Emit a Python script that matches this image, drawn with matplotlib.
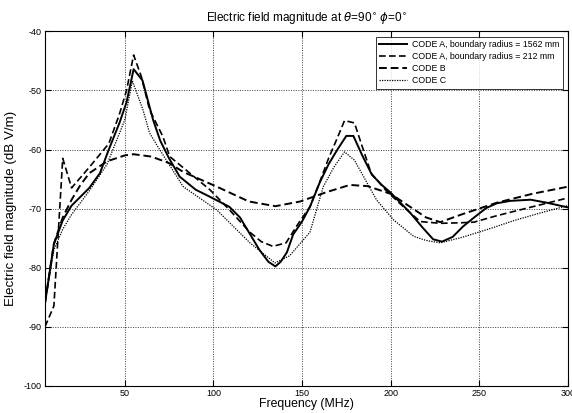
import matplotlib
matplotlib.use("Agg")
import matplotlib.pyplot as plt

plt.rcParams['font.family'] = ['Liberation Sans', 'DejaVu Sans']
plt.rcParams['axes.unicode_minus'] = False
plt.rcParams['mathtext.fontset'] = 'dejavusans'

# CODE A, boundary radius = 1562 mm (solid)
f_a1562 = [5, 10, 15, 20, 25, 30, 36, 41, 47, 51, 55, 60, 66, 70, 75, 81, 90, 98, 109, 115, 120, 126, 131, 135,
           138, 141.5, 145, 150, 154.5, 160, 165, 170, 175, 179, 184, 189.5, 195, 200, 211, 218, 224, 229, 235,
           241, 248, 254, 260, 267.5, 279, 288, 300]
v_a1562 = [-86, -76, -72, -69.5, -68, -66.5, -64, -60, -55.5, -52, -46.4, -48.3, -55, -58.5, -61.5, -64.6, -66.8, -68,
           -69.7, -71.5, -74, -77, -79, -79.8, -79, -77.4, -74.4, -72.2, -69.7, -65.6, -62.5, -60, -57.7, -57.7,
           -61, -64.3, -66, -67.3, -70.7, -73.2, -75.2, -75.6, -74.8, -73, -71.3, -69.9, -69.1, -68.7, -68.5, -69,
           -69.8]

# CODE A, boundary radius = 212 mm (dashed)
f_a212 = [5, 10, 15, 20, 30, 41, 47, 51, 55, 59.4, 64, 71.5, 75.4, 86.7, 98, 109, 120.6, 127, 133.6, 141, 148, 154.5,
          160, 165, 170, 174, 179.6, 184, 189, 197, 204, 211, 216.7, 228, 240, 247, 260, 280, 300]
v_a212 = [-90, -86.5, -61.5, -66.5, -63, -59, -54, -50, -44, -47.7, -53.3, -57.8, -61.2, -64, -66.8, -70.2, -74,
          -75.6, -76.4, -75.8, -72.5, -69.7, -65.5, -61.5, -58, -55.1, -55.5, -59.5, -64, -66.8, -68.8, -70.7,
          -72.2, -72.5, -72.4, -72.3, -71.2, -69.7, -68.2]

# CODE B (dashed)
f_b = [5, 10, 15, 20, 25, 30, 40, 50, 55, 65, 75, 83, 102, 120, 135, 149, 164, 177, 187, 200, 211, 220, 228, 240,
       260, 280, 300]
v_b = [-86, -76, -71.5, -68.5, -66, -64, -62, -61, -60.8, -61.2, -62.3, -63.8, -66.3, -68.8, -69.6, -68.8, -67.2,
       -66, -66.2, -67.5, -69.7, -71.5, -72.3, -71, -69, -67.5, -66.3]

# CODE C (dotted)
f_c = [5, 10, 15, 20, 30, 40, 50, 54.3, 60.3, 64, 68.6, 83, 101.8, 120.6, 134.7, 143, 154.5, 162, 168, 174, 179.6,
       192, 201.6, 213, 220, 228, 240, 254, 270, 285, 300]
v_c = [-86, -77, -73.5, -71, -67, -62.5, -55, -48.4, -53.3, -57.2, -59.5, -66.3, -70.2, -75.8, -79.2, -78, -74,
       -66.3, -63, -60.4, -61.8, -68.5, -71.9, -74.7, -75.4, -75.8, -74.9, -73.6, -72, -70.7, -69.5]

xticks = [50, 100, 150, 200, 250, 300]
yticks = [-100, -90, -80, -70, -60, -50, -40]

fig = plt.figure(figsize=(5.72, 4.13), dpi=100)
ax = fig.add_axes([0.0787, 0.066, 0.914, 0.858])

ax.plot(f_a1562, v_a1562, color='black', lw=1.4, ls='-',
        label='CODE A, boundary radius = 1562 mm')
ax.plot(f_a212, v_a212, color='black', lw=1.2, ls=(0, (4, 2)),
        label='CODE A, boundary radius = 212 mm')
ax.plot(f_b, v_b, color='black', lw=1.4, ls=(0, (4, 2)),
        label='CODE B')
ax.plot(f_c, v_c, color='black', lw=0.9, ls=(0, (1, 1)),
        label='CODE C')

ax.set_xlim(5, 300)
ax.set_ylim(-100, -40)
ax.set_xticks(xticks)
ax.set_yticks(yticks)
ax.tick_params(direction='in', labelsize=6.5, length=4, width=0.8, top=True, right=True, pad=2.5)
ax.grid(True, color='black', ls=(0, (1.5, 2)), lw=0.5)
for s in ax.spines.values():
    s.set_linewidth(0.8)

ax.set_title(r'Electric field magnitude at $\theta$=90$^{\circ}$ $\phi$=0$^{\circ}$', fontsize=8.5, pad=7)
ax.set_xlabel('Frequency (MHz)', fontsize=8.8, labelpad=0)
ax.set_ylabel('Electric field magnitude (dB V/m)', fontsize=9.6, labelpad=5)

leg = ax.legend(loc='upper right', fontsize=6.3, frameon=True, fancybox=False,
                edgecolor='black', borderaxespad=0.6, handlelength=3.2, labelspacing=0.35,
                borderpad=0.4, handletextpad=0.5)
leg.get_frame().set_linewidth(0.7)

fig.savefig('out.png', dpi=100)
